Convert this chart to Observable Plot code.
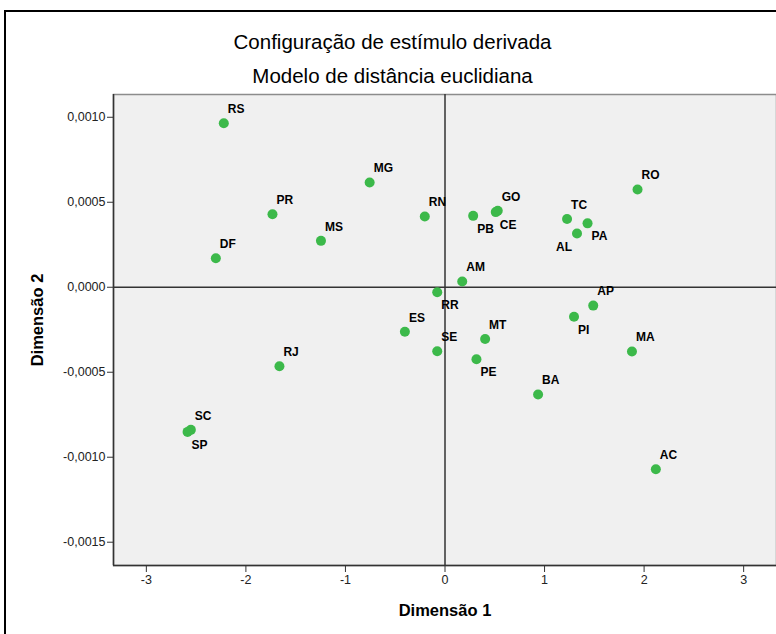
<!DOCTYPE html>
<html>
<head>
<meta charset="utf-8">
<script src="https://cdn.jsdelivr.net/npm/d3@7"></script>
<script src="https://cdn.jsdelivr.net/npm/@observablehq/plot@0.6"></script>
<style>
  html, body { margin: 0; padding: 0; background: #fff; overflow: hidden; }
  #wrap { position: relative; width: 776px; height: 634px; overflow: hidden; }
  #border { position: absolute; left: 4px; top: 10px; width: 900px; height: 900px; border: 2px solid #000; pointer-events: none; }
</style>
</head>
<body>
<div id="wrap"><div id="border"></div></div>
<script>
const titleMain = "Configuração de estímulo derivada";
const titleSub = "Modelo de distância euclidiana";
const xLabel = "Dimensão 1";
const yLabel = "Dimensão 2";

const states = ["RS","MG","PR","MS","DF","RN","PB","GO","CE","TC","PA","AL","RO","AM","RR","ES","SE","MT","PE","PI","AP","MA","BA","AC","RJ","SC","SP"];
const dim1 = [-2.222,-0.757,-1.733,-1.246,-2.302,-0.203,0.283,0.530,0.510,1.226,1.432,1.326,1.934,0.173,-0.078,-0.403,-0.078,0.403,0.316,1.296,1.489,1.878,0.935,2.118,-1.663,-2.553,-2.586];
const dim2 = [0.000965,0.000616,0.000429,0.000273,0.000171,0.000416,0.000420,0.000450,0.000442,0.000402,0.000376,0.000316,0.000575,0.000034,-0.000029,-0.000262,-0.000376,-0.000304,-0.000424,-0.000174,-0.000108,-0.000378,-0.000631,-0.001071,-0.000465,-0.000839,-0.000851];

const xTicks = [-3,-2,-1,0,1,2,3];
const yTicks = [-0.0015,-0.001,-0.0005,0,0.0005,0.001];

const labelBelow = ["PB","CE","PA","RR","SP","PI","PE"];
const labelBelowLeft = ["AL"];

const xDomain = [-3.33, 3.33];
const yDomain = [-0.001637, 0.001134];

const data = states.map((s, i) => ({s, x: dim1[i], y: dim2[i]}));
const above = data.filter(d => !labelBelow.includes(d.s) && !labelBelowLeft.includes(d.s));
const below = data.filter(d => labelBelow.includes(d.s));
const belowLeft = data.filter(d => labelBelowLeft.includes(d.s));

const fmtY = d => (d < 0 ? "-" : "") + Math.abs(d).toFixed(4).replace(".", ",");
const fmtX = d => (d < 0 ? "-" : "") + Math.abs(d);

const chart = Plot.plot({
  width: 776,
  height: 634,
  marginLeft: 113,
  marginRight: 0,
  marginTop: 94,
  marginBottom: 69,
  style: {fontFamily: "'Liberation Sans', Arial, sans-serif", fontSize: "12px", background: "transparent", color: "#111", overflow: "visible"},
  x: {domain: xDomain, axis: null},
  y: {domain: yDomain, axis: null},
  marks: [
    Plot.frame({fill: "#f0f0f0", stroke: "#8c8c8c", strokeWidth: 1.5}),
    Plot.ruleX([0], {stroke: "#333", strokeWidth: 1.5}),
    Plot.ruleY([0], {stroke: "#333", strokeWidth: 1.5}),
    Plot.ruleX([xDomain[0]], {stroke: "#333", strokeWidth: 1.5}),
    Plot.ruleY([yDomain[0]], {stroke: "#333", strokeWidth: 1.5}),
    Plot.axisX(xTicks, {tickSize: 7, tickPadding: 3, tickFormat: fmtX, label: null, fontSize: 12.5, stroke: "#333", fill: "#222"}),
    Plot.axisY(yTicks, {tickSize: 6, tickPadding: 2, tickFormat: fmtY, label: null, fontSize: 12.5, stroke: "#333", fill: "#222"}),
    Plot.dot(data, {x: "x", y: "y", r: 5, fill: "#3cb94a", stroke: null}),
    Plot.text(above, {x: "x", y: "y", text: "s", textAnchor: "start", dx: 4, dy: -14, fontWeight: "bold", fontSize: 12, fill: "#000"}),
    Plot.text(below, {x: "x", y: "y", text: "s", textAnchor: "start", dx: 4, dy: 13, fontWeight: "bold", fontSize: 12, fill: "#000"}),
    Plot.text(belowLeft, {x: "x", y: "y", text: "s", textAnchor: "end", dx: -5, dy: 14, fontWeight: "bold", fontSize: 12, fill: "#000"}),
    Plot.text([titleMain], {frameAnchor: "top", textAnchor: "middle", lineAnchor: "middle", dx: -52.5, dy: -52, fontSize: 20.5, fill: "#000"}),
    Plot.text([titleSub], {frameAnchor: "top", textAnchor: "middle", lineAnchor: "middle", dx: -52.5, dy: -18, fontSize: 20.5, fill: "#000"}),
    Plot.text([xLabel], {frameAnchor: "bottom", textAnchor: "middle", lineAnchor: "middle", dy: 45, fontSize: 16.5, fontWeight: "bold", fill: "#000"}),
    Plot.text([yLabel], {frameAnchor: "left", textAnchor: "middle", lineAnchor: "middle", dx: -76, dy: -10, rotate: -90, fontSize: 16.5, fontWeight: "bold", fill: "#000"})
  ]
});
document.getElementById("wrap").prepend(chart);
</script>
</body>
</html>
